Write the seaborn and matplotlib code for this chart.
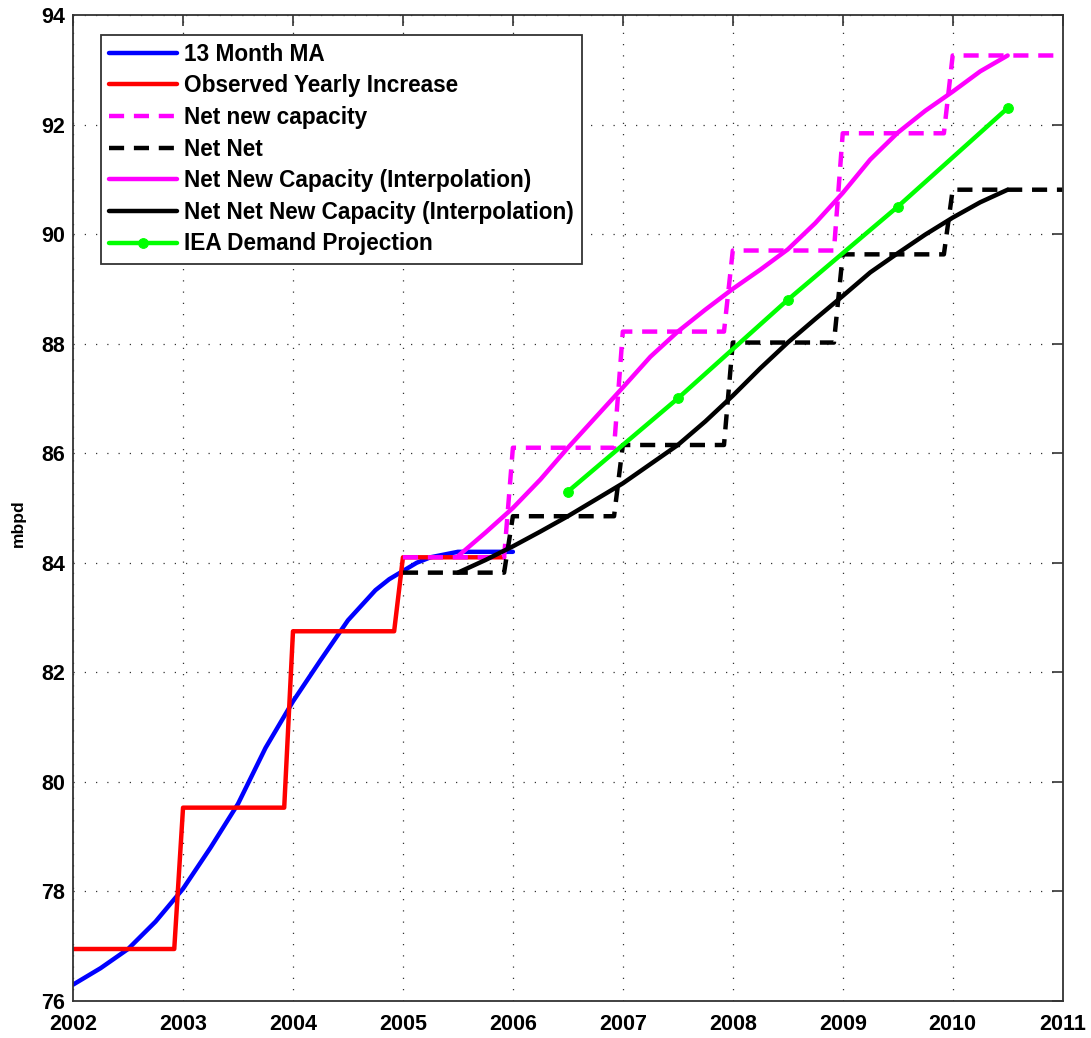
import matplotlib
matplotlib.use("Agg")
import matplotlib.pyplot as plt
import seaborn as sns
import pandas as pd

# ---------------- data ----------------
ma_year = [2002.0, 2002.25, 2002.5, 2002.75, 2003.0, 2003.25, 2003.5, 2003.75,
           2004.0, 2004.25, 2004.5, 2004.75, 2004.875, 2005.0, 2005.125, 2005.25,
           2005.5, 2005.75, 2006.0]
ma_val = [76.3, 76.6, 76.95, 77.45, 78.05, 78.8, 79.6, 80.62,
          81.47, 82.22, 82.95, 83.5, 83.7, 83.85, 84.0, 84.1,
          84.2, 84.2, 84.2]

obs_year = [2002.0, 2002.92, 2003.0, 2003.92, 2004.0, 2004.92, 2005.0, 2005.92]
obs_val = [76.95, 76.95, 79.53, 79.53, 82.75, 82.75, 84.1, 84.1]

cap_year = [2005.0, 2005.92, 2006.0, 2006.92, 2007.0, 2007.92, 2008.0, 2008.92,
            2009.0, 2009.92, 2010.0, 2011.0]
cap_val = [84.1, 84.1, 86.1, 86.1, 88.22, 88.22, 89.7, 89.7,
           91.84, 91.84, 93.26, 93.26]

netnet_year = [2005.0, 2005.92, 2006.0, 2006.92, 2007.0, 2007.92, 2008.0, 2008.92,
               2009.0, 2009.92, 2010.0, 2011.0]
netnet_val = [83.82, 83.82, 84.85, 84.85, 86.15, 86.15, 88.02, 88.02,
              89.63, 89.63, 90.81, 90.81]

interp_year = [2005.5, 2005.75, 2006.0, 2006.25, 2006.5, 2006.75, 2007.0, 2007.25,
               2007.5, 2007.75, 2008.0, 2008.25, 2008.5, 2008.75, 2009.0, 2009.25,
               2009.5, 2009.75, 2010.0, 2010.25, 2010.5]
cap_interp = [84.12, 84.55, 85.0, 85.52, 86.1, 86.65, 87.2, 87.76,
              88.22, 88.62, 89.0, 89.35, 89.72, 90.2, 90.75, 91.36,
              91.85, 92.25, 92.6, 92.97, 93.26]
netnet_interp = [83.82, 84.05, 84.3, 84.57, 84.85, 85.15, 85.45, 85.8,
                 86.15, 86.58, 87.05, 87.55, 88.02, 88.45, 88.87, 89.3,
                 89.65, 89.99, 90.3, 90.58, 90.81]

iea_year = [2006.5, 2007.5, 2008.5, 2009.5, 2010.5]
iea_val = [85.3, 87.0, 88.8, 90.5, 92.3]

x_ticks = list(range(2002, 2012))
y_ticks = list(range(76, 95, 2))

# ---------------- style ----------------
sns.set_style("white")
plt.rcParams['font.family'] = ['Liberation Sans', 'DejaVu Sans']
plt.rcParams['font.weight'] = 'bold'
plt.rcParams['text.color'] = 'black'
plt.rcParams['axes.labelcolor'] = 'black'
plt.rcParams['xtick.color'] = 'black'
plt.rcParams['ytick.color'] = 'black'

fig = plt.figure(figsize=(10.91, 10.38), dpi=100)
ax = fig.add_axes([0.067, 0.0356, 0.907, 0.95])

LW = 3.2
DASH = (0, (3.4, 2.2))

def line(xs, ys, **kw):
    df = pd.DataFrame({"year": xs, "mbpd": ys})
    sns.lineplot(data=df, x="year", y="mbpd", ax=ax, sort=False,
                 estimator=None, linewidth=LW, **kw)

line(ma_year, ma_val, color=(0, 0, 1), label="13 Month MA")
line(obs_year, obs_val, color=(1, 0, 0), label="Observed Yearly Increase")
line(cap_year, cap_val, color=(1, 0, 1), linestyle=DASH, label="Net new capacity")
line(netnet_year, netnet_val, color="black", linestyle=DASH, label="Net Net")
line(interp_year, cap_interp, color=(1, 0, 1), label="Net New Capacity (Interpolation)")
line(interp_year, netnet_interp, color="black", label="Net Net New Capacity (Interpolation)")
line(iea_year, iea_val, color=(0, 1, 0), marker="o", markersize=7,
     markeredgecolor=(0, 1, 0), label="IEA Demand Projection")

ax.set_xlim(2002, 2011)
ax.set_ylim(76, 94)
ax.set_xticks(x_ticks)
ax.set_yticks(y_ticks)
ax.set_xticklabels([str(t) for t in x_ticks], fontsize=15.5, fontweight='bold')
ax.set_yticklabels([str(t) for t in y_ticks], fontsize=15.5, fontweight='bold')
ax.tick_params(direction='in', length=8, width=1.2, top=True, right=True, color='#333333')
ax.tick_params(axis='x', pad=9)
ax.tick_params(axis='y', pad=6)
ax.set_xlabel("")
ax.set_ylabel("mbpd", fontsize=12.5, fontweight='bold')
ax.yaxis.set_label_coords(-0.048, 0.485)

ax.grid(True, linestyle=(0, (1, 8)), color='black', linewidth=0.9, alpha=0.8)
for s in ax.spines.values():
    s.set_visible(True)
    s.set_color('#333333')
    s.set_linewidth(1.3)

leg = ax.legend(loc='upper left', bbox_to_anchor=(0.028, 0.98), borderaxespad=0,
                handlelength=3.0, handletextpad=0.3,
                labelspacing=0.38, borderpad=0.36, fancybox=False,
                edgecolor='#333333', framealpha=1, prop={'weight': 'bold', 'size': 16.3})
leg.get_frame().set_linewidth(1.3)

fig.savefig("out.png", dpi=100)
